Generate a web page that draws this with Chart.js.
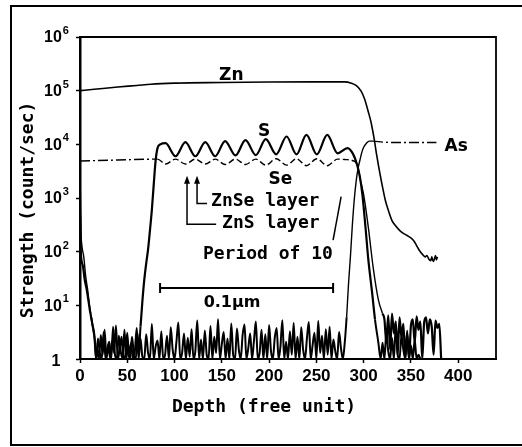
<!DOCTYPE html>
<html>
<head>
<meta charset="utf-8">
<title>SIMS depth profile</title>
<script src="https://cdn.jsdelivr.net/npm/chart.js@4.4.1/dist/chart.umd.min.js"></script>
<style>
  html, body { margin: 0; padding: 0; background: #fff; }
  canvas { display: block; }
</style>
</head>
<body>
<canvas id="chart" width="522" height="447"></canvas>
<script>
// axis ticks
const depthTicks = [0, 50, 100, 150, 200, 250, 300, 350, 400];
const strengthTicks = [1, 10, 100, 1000, 10000, 100000, 1000000];

// Zn
const znDepth = [0, 15, 40, 60, 75, 100, 150, 200, 250, 280,
  287, 292, 297, 301, 305, 308, 311, 314, 317, 320,
  323, 326, 330, 334, 338, 342, 346, 350, 353, 356,
  359, 362, 365, 367, 369, 371, 372, 373, 374, 376, 377, 378];
const znValue = [1.0e5, 1.06e5, 1.17e5, 1.25e5, 1.32e5, 1.38e5, 1.42e5, 1.45e5, 1.46e5, 1.46e5,
  1.38e5, 1.25e5, 1.0e5, 7e4, 4e4, 2.5e4, 1.3e4, 6e3, 3e3, 1.6e3,
  900, 600, 380, 300, 250, 220, 200, 180, 160, 130,
  105, 90, 80, 85, 72, 68, 80, 70, 66, 85, 70, 80];

// S : surface tail, noise floor, superlattice waves, noise after the drop
const sHeadDepth = [0, 1, 3, 5, 7, 9, 11, 13, 15];
const sHeadValue = [500, 90, 55, 30, 20, 12, 7, 4.5, 3];
const sNoiseA = [1, 2.4, 1.3, 1, 3.2, 1, 1.6, 2.1, 1, 4, 1.2, 1, 2.7, 1.4, 1, 3.5, 1, 1.9, 1, 2.6, 1.2, 1, 3]; // depth 17..61
const sWaveDepth = [62, 64, 66, 68, 70, 72, 74, 76, 78, 80,
  82, 85, 90.5, 101, 111.5, 122, 132.5, 143, 153.5, 164.5,
  175, 186, 196.5, 207.5, 218.5, 229, 239.5, 250.5, 261.5, 272.5,
  283, 289, 293, 296, 298.7, 302, 305, 309, 312, 315.6];
const sWaveValue = [1.2, 4, 12, 30, 60, 110, 250, 600, 1800, 5000,
  8500, 1.0e4, 1.05e4, 6.0e3, 1.1e4, 6.0e3, 1.1e4, 6.0e3, 1.15e4, 6.2e3,
  1.2e4, 6.3e3, 1.25e4, 6.5e3, 1.4e4, 6.5e3, 1.5e4, 6.5e3, 1.5e4, 6.8e3,
  8.5e3, 6.5e3, 4.2e3, 2.5e3, 1150, 280, 70, 17, 5.5, 2];
const sNoiseB = [1, 2, 1, 3.2, 1.4, 1, 2.5, 1, 4.1, 1.2, 1, 2.8, 1.5, 1, 3.4, 1, 1.8, 1, 2.3, 1, 1.2, 1]; // depth 318..360

// Se
const seDepth = [0, 40, 82, 90.5, 101, 111.5, 122, 132.5, 143, 153.5,
  164.5, 175, 186, 196.5, 207.5, 218.5, 229, 239.5, 250.5, 261.5,
  272.5, 281, 288, 293, 297, 300, 305, 310, 315.6, 320];
const seValue = [4900, 5100, 5300, 4300, 5300, 4300, 5300, 4300, 5300, 4200,
  5300, 4200, 5300, 4100, 5400, 4100, 5400, 4000, 5400, 4000,
  5300, 5200, 5000, 4200, 2000, 1150, 280, 52, 12.6, 7];
const seNoise = [5.5, 2, 6.5, 1.5, 7, 3, 5, 1.2, 6, 2.5,
  4.5, 1, 3, 1, 4.2, 5.5, 2, 6.2, 3.5, 5,
  1, 4.8, 6, 3, 5.5, 4, 1.2, 5.2, 3.8, 4.5, 1]; // depth 322..382

// As
const asHeadDepth = [0, 0.5, 1, 2, 4, 6, 8, 10, 12, 14, 16, 17];
const asHeadValue = [3000, 1000, 250, 130, 80, 35, 20, 10, 6, 3.5, 2, 1];
const asNoise = [1.6, 1, 2.8, 1.2, 3.5, 1, 1.8, 1, 2.2, 1.3,
  4.2, 1, 1.5, 2.6, 1, 1.2, 3.1, 1, 2, 1,
  1.4, 3.8, 1, 2.4, 1.1, 1, 2.9, 1.3, 1, 4.5,
  1, 1.7, 2.2, 1, 3.3, 1, 1.2, 2.7, 1, 3.9,
  1.5, 1, 2.1, 4.8, 1, 1.3, 3, 1, 2.5, 1.1,
  3.6, 1, 1.4, 5.2, 1, 2.3, 1, 3.4, 1.2, 1,
  4.1, 1, 2.6, 1.3, 5.5, 1, 1.9, 3.2, 1, 2.4,
  1, 4.6, 1.2, 1, 3.7, 1.5, 1, 2.8, 4.4, 1,
  1.6, 3, 1, 2.2, 5, 1, 1.3, 3.5, 1, 2.9,
  1, 4.3, 1.4, 1, 2.5, 3.8, 1, 1.7, 5.3, 1,
  2.1, 1, 3.3, 1.2, 4.7, 1, 2.6, 1, 3.9, 1.5,
  1, 2.4, 4.9, 1, 1.8, 3.1, 1, 5.1, 1.3, 2.7,
  1, 3.6, 1.2, 4, 1, 2.3, 1.4, 1, 3.2, 1.6,
  1]; // depth 18..278
const asTailDepth = [280, 282, 284, 286, 288, 290, 292, 294, 296, 298, 300, 303, 306, 310, 320, 340, 360, 377];
const asTailValue = [2, 6, 25, 80, 300, 900, 2000, 3500, 5000, 7000, 8800, 1.05e4, 1.15e4, 1.15e4, 1.1e4, 1.08e4, 1.08e4, 1.08e4];

const pts = (xs, ys) => xs.map((x, i) => ({ x: x, y: ys[i] }));
const sampled = (start, step, ys) => ys.map((y, i) => ({ x: start + step * i, y: y }));

// noise floor segments are drawn a bit heavier, like the scan
const noisy = (c) => c.p0.parsed.y < 8 && c.p1.parsed.y < 8;

const mono = '"DejaVu Sans Mono"';
const sans = '"DejaVu Sans"';

const figureText = {
  id: "figureText",
  afterDraw(chart) {
    const ctx = chart.ctx;
    const a = chart.chartArea;
    const x = chart.scales.x;
    const y = chart.scales.y;
    const px = (d) => x.getPixelForValue(d);
    const py = (v) => y.getPixelForValue(v);

    ctx.save();
    ctx.strokeStyle = "#000";
    ctx.fillStyle = "#000";

    // outer frame (no right edge visible in the scan)
    ctx.lineWidth = 2;
    ctx.beginPath();
    ctx.moveTo(522, 6);
    ctx.lineTo(11, 6);
    ctx.lineTo(11, 445);
    ctx.lineTo(522, 445);
    ctx.stroke();

    // top and right side of the plot box
    ctx.lineWidth = 1.8;
    ctx.beginPath();
    ctx.moveTo(a.left, a.top);
    ctx.lineTo(a.right, a.top);
    ctx.lineTo(a.right, a.bottom);
    ctx.stroke();

    // decade labels
    ctx.textBaseline = "middle";
    strengthTicks.forEach((v) => {
      const n = Math.round(Math.log10(v));
      const yy = py(v);
      const cx = a.left - 24;
      if (n === 0) {
        ctx.font = "bold 16px " + '"Liberation Sans"';
        ctx.textAlign = "center";
        ctx.fillText("1", cx, yy + 3);
        return;
      }
      ctx.font = "bold 16px " + '"Liberation Sans"';
      const w1 = ctx.measureText("10").width;
      ctx.font = "bold 11px " + '"Liberation Sans"';
      const w2 = ctx.measureText(String(n)).width;
      const left = cx - (w1 + w2) / 2;
      ctx.textAlign = "left";
      ctx.font = "bold 16px " + '"Liberation Sans"';
      ctx.fillText("10", left, yy + 1);
      ctx.font = "bold 11px " + '"Liberation Sans"';
      ctx.fillText(String(n), left + w1 + 1, yy - 6);
    });

    // axis titles
    ctx.font = "bold 18px " + mono;
    ctx.textAlign = "center";
    ctx.fillText("Depth (free unit)", 264, 407);
    ctx.save();
    ctx.translate(28, 210);
    ctx.rotate(-Math.PI / 2);
    ctx.fillText("Strength (count/sec)", 0, 0);
    ctx.restore();

    // species labels
    ctx.font = "bold 17px " + sans;
    ctx.fillText("Zn", px(160), py(1.9e5));
    ctx.fillText("S", px(194.7), py(1.7e4));
    ctx.fillText("Se", px(212), py(2.2e3));
    ctx.fillText("As", px(397.9), py(8.9e3));

    // layer notes
    ctx.font = "bold 18px " + mono;
    ctx.textAlign = "left";
    ctx.fillText("ZnSe layer", px(138.6), py(860));
    ctx.fillText("ZnS layer", px(150.3), py(340));
    ctx.fillText("Period of 10", px(130), py(91));

    // arrows to the two layer kinds
    ctx.lineWidth = 1.5;
    const arrow = (d, vTop, vBottom, dEnd) => {
      const ax = px(d);
      ctx.beginPath();
      ctx.moveTo(ax, py(vTop) + 4);
      ctx.lineTo(ax, py(vBottom));
      ctx.lineTo(px(dEnd), py(vBottom));
      ctx.stroke();
      ctx.beginPath();
      ctx.moveTo(ax, py(vTop) - 3);
      ctx.lineTo(ax - 3, py(vTop) + 5);
      ctx.lineTo(ax + 3, py(vTop) + 5);
      ctx.closePath();
      ctx.fill();
    };
    arrow(113.2, 2290, 324, 144);
    arrow(123.8, 2290, 790, 134.4);

    // pointer from "Period of 10" to the profile
    ctx.beginPath();
    ctx.moveTo(px(267.7), py(164));
    ctx.lineTo(px(276.2), py(1065));
    ctx.stroke();

    // 0.1 um scale bar
    const barY = py(21);
    ctx.lineWidth = 2;
    ctx.beginPath();
    ctx.moveTo(px(84.7), barY);
    ctx.lineTo(px(267.7), barY);
    ctx.moveTo(px(84.7), barY - 5);
    ctx.lineTo(px(84.7), barY + 5);
    ctx.moveTo(px(267.7), barY - 5);
    ctx.lineTo(px(267.7), barY + 5);
    ctx.stroke();
    ctx.font = "bold 16px " + sans;
    ctx.textAlign = "center";
    ctx.fillText("0.1\u00b5m", px(160.8), py(11.2));

    ctx.restore();
  },
};

new Chart(document.getElementById("chart"), {
  type: "line",
  data: {
    datasets: [
      {
        label: "Zn",
        data: pts(znDepth, znValue),
        borderWidth: 1.6,
      },
      {
        label: "S",
        data: [].concat(
          pts(sHeadDepth, sHeadValue),
          sampled(17, 2, sNoiseA),
          pts(sWaveDepth, sWaveValue),
          sampled(318, 2, sNoiseB)
        ),
        borderWidth: 2.2,
        segment: { borderWidth: (c) => (noisy(c) ? 2 : undefined) },
      },
      {
        label: "Se",
        data: [].concat(pts(seDepth, seValue), sampled(322, 2, seNoise)),
        borderWidth: 1.4,
        segment: {
          borderDash: (c) =>
            c.p0.parsed.x < 82 ? [10, 3, 2, 3] : c.p0.parsed.x < 296 ? [6, 3] : [],
          borderWidth: (c) => (noisy(c) ? 2.2 : undefined),
        },
      },
      {
        label: "As",
        data: [].concat(
          pts(asHeadDepth, asHeadValue),
          sampled(18, 2, asNoise),
          pts(asTailDepth, asTailValue)
        ),
        borderWidth: 1.4,
        segment: {
          borderDash: (c) => (c.p0.parsed.x >= 308 ? [10, 3, 2, 3] : []),
          borderWidth: (c) => (noisy(c) ? 2 : undefined),
        },
      },
    ],
  },
  options: {
    responsive: false,
    animation: false,
    layout: { padding: { left: 76, top: 37, right: 26, bottom: 57.6 } },
    plugins: {
      legend: { display: false },
      tooltip: { enabled: false },
    },
    elements: {
      point: { radius: 0 },
      line: { borderColor: "#000", cubicInterpolationMode: "monotone" },
    },
    scales: {
      x: {
        type: "linear",
        min: 0,
        max: 440,
        afterBuildTicks: (axis) => {
          axis.ticks = depthTicks.map((v) => ({ value: v }));
        },
        grid: { drawOnChartArea: false, color: "#000", tickLength: 4, tickWidth: 1.5 },
        border: { color: "#000", width: 2 },
        ticks: {
          color: "#000",
          padding: 3,
          maxRotation: 0,
          font: { family: "Liberation Sans", weight: "bold", size: 17 },
        },
      },
      y: {
        type: "logarithmic",
        min: 1,
        max: 1000000,
        afterBuildTicks: (axis) => {
          axis.ticks = strengthTicks.map((v) => ({ value: v }));
        },
        grid: { drawOnChartArea: false, color: "#000", tickLength: 4, tickWidth: 1.5 },
        border: { color: "#000", width: 2.5 },
        ticks: { display: false },
      },
    },
  },
  plugins: [figureText],
});
</script>
</body>
</html>
